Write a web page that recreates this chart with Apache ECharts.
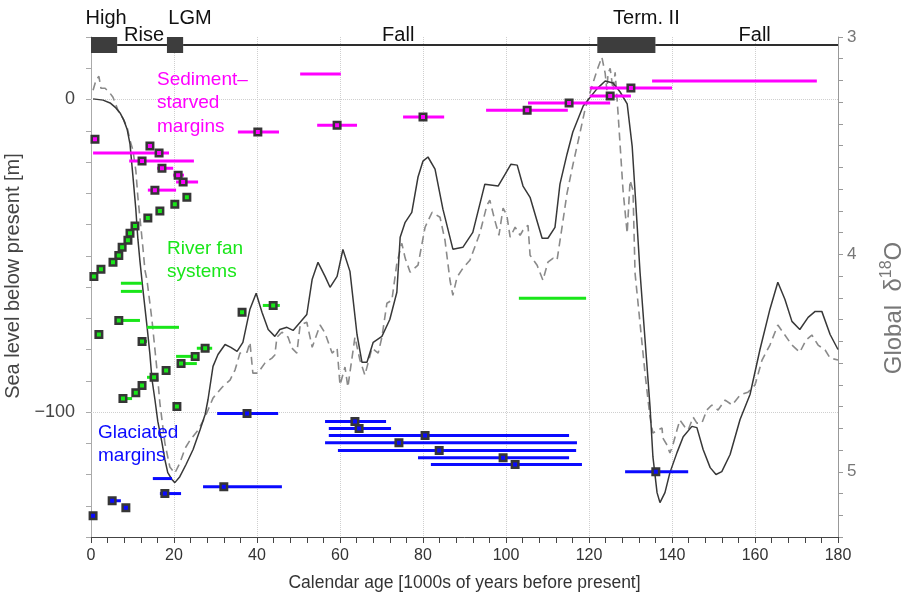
<!DOCTYPE html>
<html>
<head>
<meta charset="utf-8">
<script src="https://cdn.jsdelivr.net/npm/echarts@6/dist/echarts.min.js"></script>
<style>
  html, body { margin: 0; padding: 0; background: #fff; }
  #chart { width: 906px; height: 606px; }
</style>
</head>
<body>
<div id="chart"></div>
<script>
// ---- Sea-level reconstruction (left axis, m) ----
const seaAge = [0.5,2.9,4.6,6.0,7.0,7.9,8.7,9.4,10.1,10.8,
  11.3,11.8,12.5,13.5,14.2,14.7,15.4,16.1,17.1,17.8,
  18.5,19.5,20.2,21.4,22.9,24.6,26.3,27.5,28.2,29.4,
  30.6,32.3,33.7,35.2,36.6,38.3,39.8,41.2,42.7,44.3,
  45.5,47.2,48.7,50.4,52.0,53.3,54.7,56.4,57.6,59.3,
  60.7,62.4,64.1,65.3,66.5,68.0,70.1,72.0,73.7,74.5,
  75.7,77.3,78.8,80.0,81.2,82.9,84.8,87.2,89.6,92.0,
  94.9,98.1,99.8,101.2,102.7,104.1,105.8,108.7,110.1,111.8,
  113.0,114.7,116.1,118.6,121.9,123.9,125.8,127.5,129.2,130.4,
  131.1,132.3,133.5,134.7,135.4,136.4,137.1,138.3,139.5,141.2,
  142.7,144.8,146.0,147.5,149.2,150.6,152.0,154.0,156.4,158.8,
  161.2,163.6,165.5,167.2,168.9,170.8,172.8,174.5,176.1,178.1,
  180.0];
const seaLevel = [0.2,-0.2,-1.1,-2.7,-4.3,-6.6,-9.5,-14.3,-24.5,-35.1,
  -44.7,-51.8,-60.7,-72.6,-81.6,-89.6,-96.0,-103.0,-109.8,-115.2,
  -119.4,-121.6,-122.6,-120.7,-116.8,-112.0,-105.6,-100.8,-96.0,-85.4,
  -81.6,-78.4,-79.3,-80.6,-77.7,-67.1,-62.0,-68.1,-73.6,-75.8,
  -73.6,-72.9,-73.9,-71.3,-68.8,-57.5,-52.1,-56.6,-60.1,-56.6,
  -48.0,-55.0,-75.2,-84.1,-84.1,-77.7,-75.8,-70.4,-61.7,-44.1,
  -39.3,-36.1,-24.8,-19.7,-18.4,-22.3,-35.1,-47.9,-47.3,-42.5,
  -27.1,-27.7,-23.9,-20.7,-21.0,-27.7,-31.3,-44.4,-44.4,-40.9,
  -27.1,-17.5,-10.4,-2.1,3.4,5.9,5.3,2.4,-1.4,-14.9,
  -29.6,-55.3,-76.8,-98.2,-114.3,-125.8,-129.0,-125.8,-119.4,-113.0,
  -107.9,-104.6,-105.0,-112.0,-117.8,-120.0,-119.1,-113.6,-102.4,-94.4,
  -80.0,-67.1,-58.5,-63.9,-71.0,-73.6,-69.7,-67.8,-67.8,-75.2,
  -80.0];

// ---- Global benthic d18O stack (right axis, per mil) ----
const isoAge = [0.5,1.2,1.9,2.4,3.4,4.6,5.3,6.5,7.7,8.7,
  9.4,10.1,10.8,11.3,12.5,13.0,13.5,14.7,15.9,16.6,
  17.8,19.0,20.2,21.4,22.7,23.9,25.8,27.5,28.2,29.4,
  30.6,31.6,33.5,34.7,35.9,37.6,38.3,39.0,40.2,41.9,
  43.6,44.3,44.8,46.0,47.5,48.4,49.6,50.4,52.0,53.3,
  55.2,56.4,58.1,59.3,60.0,61.2,61.9,63.6,64.8,66.0,
  67.7,69.2,70.1,71.3,72.5,73.7,74.9,75.7,76.9,78.8,
  80.5,82.2,84.1,85.3,86.5,87.2,88.2,89.6,91.3,93.7,
  95.4,96.1,97.3,98.3,99.3,100.2,101.0,102.2,103.4,104.1,
  105.3,105.8,107.5,108.9,110.1,111.3,112.3,113.5,114.7,116.1,
  117.8,119.0,120.2,121.4,122.2,123.1,123.9,124.3,124.6,125.1,
  125.8,126.3,127.0,128.2,129.2,129.9,130.6,131.1,132.3,133.5,
  134.7,135.4,136.6,137.6,137.8,138.8,139.5,140.2,141.2,141.9,
  143.1,143.9,145.1,146.0,147.2,148.4,149.6,151.1,152.8,154.5,
  156.4,158.3,160.0,161.7,163.6,165.5,167.2,168.9,170.8,172.3,
  173.7,175.2,176.9,178.1,180.0];
const isoValue = [3.245,3.199,3.181,3.236,3.236,3.259,3.277,3.337,3.374,3.415,
  3.475,3.521,3.613,3.737,3.967,4.073,4.119,4.303,4.532,4.684,
  4.868,4.978,5.006,4.960,4.891,4.854,4.808,4.748,4.716,4.661,
  4.634,4.611,4.578,4.532,4.454,4.450,4.404,4.546,4.546,4.500,
  4.477,4.463,4.381,4.358,4.381,4.431,4.454,4.325,4.312,4.427,
  4.325,4.362,4.454,4.431,4.601,4.518,4.610,4.381,4.486,4.555,
  4.431,4.454,4.381,4.225,4.211,4.041,3.949,4.017,4.082,4.049,
  3.875,3.806,3.829,3.935,4.119,4.188,4.105,4.064,4.027,3.903,
  3.774,3.751,3.843,3.912,3.787,3.820,3.921,3.875,3.912,3.889,
  3.866,4.004,4.050,4.119,4.036,4.018,4.027,3.875,3.719,3.590,
  3.443,3.337,3.259,3.185,3.139,3.093,3.167,3.245,3.167,3.144,
  3.245,3.162,3.351,3.705,3.903,3.659,3.705,4.087,4.317,4.547,
  4.749,4.822,4.808,4.799,4.845,4.877,4.914,4.877,4.808,4.762,
  4.794,4.808,4.749,4.776,4.776,4.716,4.693,4.716,4.670,4.693,
  4.647,4.634,4.601,4.486,4.417,4.325,4.371,4.417,4.450,4.394,
  4.371,4.417,4.440,4.477,4.486];

// ---- Dated sea-level indicators: [age, level] and age ranges [from, to, level] ----
const starvedPts = [[0.96,-12.7],[14.2,-14.9],[16.4,-17.1],[12.3,-19.7],[17.1,-22.0],
  [21.0,-24.2],[22.2,-26.4],[15.4,-29.0],[40.2,-10.4],[59.3,-8.2],[80.0,-5.6],
  [105.1,-3.4],[115.2,-1.1],[125.1,1.1],[130.1,3.7]];
const starvedRanges = [[0.5,18.8,-17.1],[9.2,24.8,-19.7],[15.9,19.8,-22.0],[19.8,22.4,-24.2],
  [20.5,25.8,-26.4],[13.7,20.5,-29.0],[35.4,45.3,-10.4],[50.4,60.2,8.2],[54.5,64.1,-8.2],
  [75.2,85.1,-5.6],[95.2,114.9,-3.4],[105.3,125.1,-1.1],[120.2,130.1,1.1],[120.2,140.0,3.7],
  [135.2,174.9,5.9]];

const fanPts = [[23.1,-31.3],[20.2,-33.5],[16.6,-35.7],[13.7,-37.9],[10.6,-40.5],[9.4,-42.8],
  [8.9,-45.0],[7.5,-47.3],[6.7,-49.9],[5.3,-52.1],[2.4,-54.3],[0.7,-56.6],[6.7,-70.7],
  [1.9,-75.2],[12.3,-77.4],[27.5,-79.6],[25.1,-82.2],[21.7,-84.5],[18.1,-86.7],[15.2,-88.9],
  [12.3,-91.5],[10.8,-93.8],[7.7,-95.7],[20.7,-98.2],[36.4,-68.1],[43.9,-65.9]];
const fanRanges = [[4.6,6.0,-52.1],[7.2,12.3,-58.8],[7.2,12.3,-61.4],[6.7,11.8,-70.7],
  [13.5,21.2,-72.9],[12.3,13.5,-77.4],[25.5,29.2,-79.6],[20.5,25.5,-82.2],[20.7,25.5,-84.5],
  [17.1,19.0,-86.7],[13.5,15.9,-88.9],[7.7,9.9,-95.7],[41.4,45.5,-65.9],[103.1,119.3,-63.6]];

const glacialPts = [[37.6,-100.5],[17.8,-126.1],[32.0,-123.9],[5.1,-128.4],[8.4,-130.6],
  [0.5,-133.2],[63.6,-103.0],[64.6,-105.3],[80.5,-107.5],[74.2,-109.8],[83.9,-112.3],
  [99.3,-114.6],[102.2,-116.8],[136.1,-119.1]];
const glacialRanges = [[30.4,45.1,-100.5],[14.9,19.5,-121.3],[16.6,21.7,-126.1],[27.0,46.0,-123.9],
  [4.1,7.2,-128.4],[56.4,71.1,-103.0],[57.3,72.3,-105.3],[57.3,115.2,-107.5],[56.4,117.1,-109.8],
  [59.5,116.9,-112.3],[78.8,115.2,-114.6],[81.9,118.3,-116.8],[128.7,143.9,-119.1]];

// ---- Sea-level phases along the top ----
const phaseNames = ['High', 'Rise', 'LGM', 'Fall', 'Term. II', 'Fall'];
const phaseStart = [0, 6.3, 18.3, 22.2, 122, 136];
const phaseEnd = [6.3, 18.3, 22.2, 122, 136, 180];
const phaseBlock = [true, false, true, false, true, false];

// ---- Axis tick labels ----
const seaTickLabels = [0, -100];
const isoTickLabels = [3, 4, 5];

// ---- Styling ----
const FONT = '"Liberation Sans", Arial, sans-serif';
const C_STARVED = '#ff00ff';
const C_FAN = '#19e619';
const C_GLACIAL = '#0a0aff';
const phaseLabelShift = [2, 2, 15, 8, 20, 8];

const zip = (a, b) => a.map((v, i) => [v, b[i]]);

function rangeSeries(name, rows, color) {
  return {
    name, type: 'custom', xAxisIndex: 0, yAxisIndex: 0, z: 4,
    data: rows, encode: { x: [0, 1], y: 2 },
    renderItem(params, api) {
      const p0 = api.coord([api.value(0), api.value(2)]);
      const p1 = api.coord([api.value(1), api.value(2)]);
      return { type: 'line', shape: { x1: p0[0], y1: p0[1], x2: p1[0], y2: p1[1] },
        style: { stroke: color, lineWidth: 3 } };
    }
  };
}
function pointSeries(name, pts, color) {
  return {
    name, type: 'scatter', xAxisIndex: 0, yAxisIndex: 0, z: 5,
    data: pts, symbol: 'rect', symbolSize: 6.5,
    itemStyle: { color, borderColor: '#363636', borderWidth: 2.5, opacity: 1 }
  };
}

const chart = echarts.init(document.getElementById('chart'), null, { renderer: 'canvas' });

chart.setOption({
  animation: false,
  backgroundColor: '#fff',
  textStyle: { fontFamily: FONT },
  grid: { left: 91, right: 68, top: 37, bottom: 69, containLabel: false, outerBoundsMode: 'none' },
  xAxis: {
    type: 'value', min: 0, max: 180, interval: 20,
    name: 'Calendar age [1000s of years before present]',
    nameLocation: 'middle', nameGap: 37,
    nameTextStyle: { fontSize: 17.5, color: '#333', fontFamily: FONT },
    axisLine: { show: true, onZero: false, lineStyle: { color: '#444', width: 1 } },
    axisTick: { show: true, length: 6, lineStyle: { color: '#444' } },
    minorTick: { show: true, splitNumber: 5, length: 6, lineStyle: { color: '#444' } },
    axisLabel: { fontSize: 16, color: '#333', margin: 11, fontFamily: FONT },
    splitLine: { show: true, lineStyle: { type: 'dotted', color: '#cfcfcf', width: 1 } }
  },
  yAxis: [{
    type: 'value', min: -140, max: 20, interval: 10, position: 'left',
    name: 'Sea level below present [m]',
    nameLocation: 'middle', nameGap: 53, nameRotate: 90,
    nameTextStyle: { fontSize: 20, color: '#444', fontFamily: FONT, padding: [0, 0, 0, 22] },
    axisLine: { show: true, onZero: false, lineStyle: { color: '#aaa', width: 1 } },
    axisTick: { show: true, length: 5, lineStyle: { color: '#aaa' } },
    axisLabel: {
      fontSize: 18, color: '#444', margin: 16, fontFamily: FONT,
      formatter: v => seaTickLabels.includes(Math.round(v)) && Math.abs(v - Math.round(v)) < 1e-6
        ? String(Math.round(v)).replace('-', '\u2212') : ''
    },
    splitLine: { show: false }
  }, {
    type: 'value', min: 3, max: 5.3, interval: 0.1, inverse: true, position: 'right',
    name: '{a|Global  \u03b4}{s|18}{a|O}',
    nameLocation: 'middle', nameGap: 41, nameRotate: 90,
    nameTextStyle: {
      color: '#777', fontSize: 24, fontFamily: FONT, padding: [0, 42, 0, 0],
      rich: {
        a: { fontSize: 24, color: '#777', fontFamily: FONT },
        s: { fontSize: 16, color: '#777', fontFamily: FONT, padding: [0, 0, 15, 0] }
      }
    },
    axisLine: { show: true, onZero: false, lineStyle: { color: '#999', width: 1 } },
    axisTick: { show: true, length: 5, lineStyle: { color: '#999' } },
    axisLabel: {
      fontSize: 17, color: '#777', margin: 9, fontFamily: FONT,
      formatter: v => {
        const r = Math.round(v);
        return Math.abs(v - r) < 1e-6 && isoTickLabels.includes(r) ? String(r) : '';
      }
    },
    splitLine: { show: false }
  }],
  series: [
    {
      // dotted reference lines at the labelled sea levels, kept beneath all marks
      name: 'Level grid', type: 'line', xAxisIndex: 0, yAxisIndex: 0, z: 1,
      data: [], silent: true,
      markLine: {
        z: 1, silent: true, symbol: 'none', label: { show: false },
        lineStyle: { type: 'dotted', color: '#cfcfcf', width: 1 },
        data: seaTickLabels.map(v => ({ yAxis: v }))
      }
    },
    {
      name: 'Global d18O', type: 'line', xAxisIndex: 0, yAxisIndex: 1, z: 2,
      data: zip(isoAge, isoValue), showSymbol: false, symbol: 'none',
      lineStyle: { color: '#8a8a8a', width: 1.6, type: [8, 5] }
    },
    {
      name: 'Sea level', type: 'line', xAxisIndex: 0, yAxisIndex: 0, z: 3,
      data: zip(seaAge, seaLevel), showSymbol: false, symbol: 'none',
      lineStyle: { color: '#383838', width: 1.5 }
    },
    rangeSeries('Sediment-starved ranges', starvedRanges, C_STARVED),
    rangeSeries('River fan ranges', fanRanges, C_FAN),
    rangeSeries('Glaciated ranges', glacialRanges, C_GLACIAL),
    pointSeries('Sediment-starved margins', starvedPts, C_STARVED),
    pointSeries('River fan systems', fanPts, C_FAN),
    pointSeries('Glaciated margins', glacialPts, C_GLACIAL),
    {
      name: 'Phases', type: 'custom', xAxisIndex: 0, yAxisIndex: 0, z: 6, clip: false,
      data: phaseStart.map((s, i) => [s, phaseEnd[i]]),
      encode: { x: [0, 1] },
      renderItem(params, api) {
        const i = params.dataIndex;
        const top = api.coord([0, 20])[1];
        const x0 = api.coord([api.value(0), 20])[0];
        const x1 = api.coord([api.value(1), 20])[0];
        const lineY = top + 8;
        const children = [{
          type: 'line', shape: { x1: x0, y1: lineY, x2: x1, y2: lineY },
          style: { stroke: '#2e2e2e', lineWidth: 2 }
        }];
        if (phaseBlock[i]) {
          children.push({ type: 'rect', shape: { x: x0, y: top, width: x1 - x0, height: 16 },
            style: { fill: '#3d3d3d' } });
        }
        children.push({
          type: 'text',
          style: {
            text: phaseNames[i], x: (x0 + x1) / 2 + phaseLabelShift[i],
            y: phaseBlock[i] ? top - 19 : top - 2,
            align: 'center', verticalAlign: 'middle',
            fill: '#111', font: '20px ' + FONT
          }
        });
        return { type: 'group', children };
      }
    }
  ],
  graphic: [
    { type: 'text', left: 157, top: 68, z: 10,
      style: { text: 'Sediment\u2013\nstarved\nmargins', fill: C_STARVED, font: '19px ' + FONT, lineHeight: 23.5 } },
    { type: 'text', left: 167, top: 237, z: 10,
      style: { text: 'River fan\nsystems', fill: C_FAN, font: '19px ' + FONT, lineHeight: 23.5 } },
    { type: 'text', left: 98, top: 421, z: 10,
      style: { text: 'Glaciated\nmargins', fill: C_GLACIAL, font: '19px ' + FONT, lineHeight: 23.5 } }
  ]
});
</script>
</body>
</html>
